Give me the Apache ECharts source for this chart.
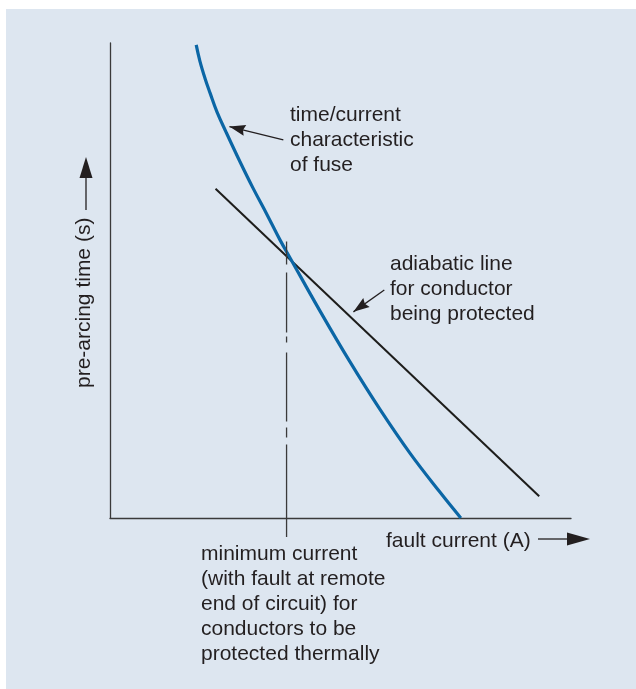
<!DOCTYPE html>
<html>
<head>
<meta charset="utf-8">
<title>fuse vs adiabatic line</title>
<script src="https://cdn.jsdelivr.net/npm/echarts@6/dist/echarts.min.js"></script>
<style>
  html, body { margin: 0; padding: 0; background: #fff; }
  #myChart { width: 636px; height: 689px; }
</style>
</head>
<body>
<div id="myChart"></div>
<script>
// time/current characteristic of fuse (arbitrary units, 0..100 on both axes)
const fuseX = [18.7, 19.5, 20.6, 21.7, 23.2, 25.2, 28.2, 31.0, 34.1, 36.9, 39.1, 45.6, 52.1, 58.6, 65.1, 71.6, 76.1];
const fuseY = [99.6, 96.2, 92.6, 89.5, 85.5, 81.2, 75.0, 69.5, 63.8, 58.5, 54.7, 43.5, 32.8, 22.8, 13.6, 5.4, 0];
// adiabatic line for conductor
const adiabaticX = [22.9, 93.1];
const adiabaticY = [69.3, 4.6];
// minimum current marker (goes a bit below the axis)
const minCurrentX = 38.3;
const minCurrentY = [58.2, -4.0];
// pointer arrows: [from, to]
const fuseArrow = [[37.6, 79.6], [25.9, 82.4]];
const adiabaticArrow = [[59.5, 48.0], [52.8, 43.4]];

const xName = 'fault current (A)';
const yName = 'pre-arcing time (s)';
const fuseNote = 'time/current\ncharacteristic\nof fuse';
const adiabaticNote = 'adiabatic line\nfor conductor\nbeing protected';
const minNote = 'minimum current\n(with fault at remote\nend of circuit) for\nconductors to be\nprotected thermally';

const FONT = '"Liberation Sans", Arial, Helvetica, sans-serif';
const TXT = '#231f20';
const AX = '#3a3a3a';

const myChart = echarts.init(document.getElementById('myChart'));

function note(text, x, y) {
  return {
    type: 'text',
    x: x,
    y: y,
    style: {
      text: text,
      fill: TXT,
      fontFamily: FONT,
      fontSize: 21,
      lineHeight: 25,
      align: 'left',
      verticalAlign: 'top',
    },
  };
}

function arrowMark(pair) {
  return [{ coord: pair[0] }, { coord: pair[1] }];
}

myChart.setOption({
  animation: false,
  backgroundColor: '#ffffff',
  grid: {
    left: 110,
    top: 43,
    width: 461,
    height: 475,
    outerBoundsMode: 'none',
  },
  xAxis: {
    type: 'value',
    min: 0,
    max: 100,
    axisLine: { lineStyle: { color: AX, width: 1.3 } },
    axisTick: { show: false },
    axisLabel: { show: false },
    splitLine: { show: false },
  },
  yAxis: {
    type: 'value',
    min: 0,
    max: 100,
    axisLine: { show: true, lineStyle: { color: AX, width: 1.3 } },
    axisTick: { show: false },
    axisLabel: { show: false },
    splitLine: { show: false },
  },
  graphic: [
    {
      type: 'rect',
      z: -100,
      shape: { x: 6, y: 9, width: 630, height: 680 },
      style: { fill: '#dde6f0' },
    },
    note(fuseNote, 290, 103),
    note(adiabaticNote, 390, 252),
    note(minNote, 201, 542),
    note(xName, 386, 529),
    {
      type: 'text',
      x: 84,
      y: 388,
      rotation: Math.PI / 2,
      style: {
        text: yName,
        fill: TXT,
        fontFamily: FONT,
        fontSize: 21,
        align: 'left',
        verticalAlign: 'middle',
      },
    },
    // y name arrow
    { type: 'line', shape: { x1: 86, y1: 210, x2: 86, y2: 176 }, style: { stroke: TXT, lineWidth: 1.3 } },
    { type: 'polygon', shape: { points: [[86, 157], [92.5, 178], [79.5, 178]] }, style: { fill: TXT } },
    // x name arrow
    { type: 'line', shape: { x1: 538, y1: 539, x2: 569, y2: 539 }, style: { stroke: TXT, lineWidth: 1.3 } },
    { type: 'polygon', shape: { points: [[590, 539], [567, 532.5], [567, 545.5]] }, style: { fill: TXT } },
  ],
  series: [
    {
      name: 'adiabatic',
      type: 'line',
      symbol: 'none',
      data: adiabaticX.map((x, i) => [x, adiabaticY[i]]),
      lineStyle: { color: '#1d1d1b', width: 2 },
      z: 3,
    },
    {
      name: 'fuse',
      type: 'line',
      symbol: 'none',
      smooth: 0.4,
      data: fuseX.map((x, i) => [x, fuseY[i]]),
      lineStyle: { color: '#0b66a5', width: 3.2 },
      z: 4,
      markLine: {
        silent: true,
        symbol: ['none', 'path://M5,0 L10,16 L5,14 L0,16 Z'],
        symbolSize: [11, 16],
        symbolOffset: [[0, 0], [0, 8]],
        label: { show: false },
        lineStyle: { color: TXT, width: 1.3, type: 'solid' },
        data: [arrowMark(fuseArrow), arrowMark(adiabaticArrow)],
      },
    },
    {
      name: 'minimum current',
      type: 'line',
      symbol: 'none',
      clip: false,
      data: minCurrentY.map((y) => [minCurrentX, y]),
      lineStyle: {
        color: '#3a3a3a',
        width: 1.3,
        type: [23, 8, 60, 4, 6, 10, 69, 6, 10, 7, 200],
      },
      z: 5,
    },
  ],
});
</script>
</body>
</html>
